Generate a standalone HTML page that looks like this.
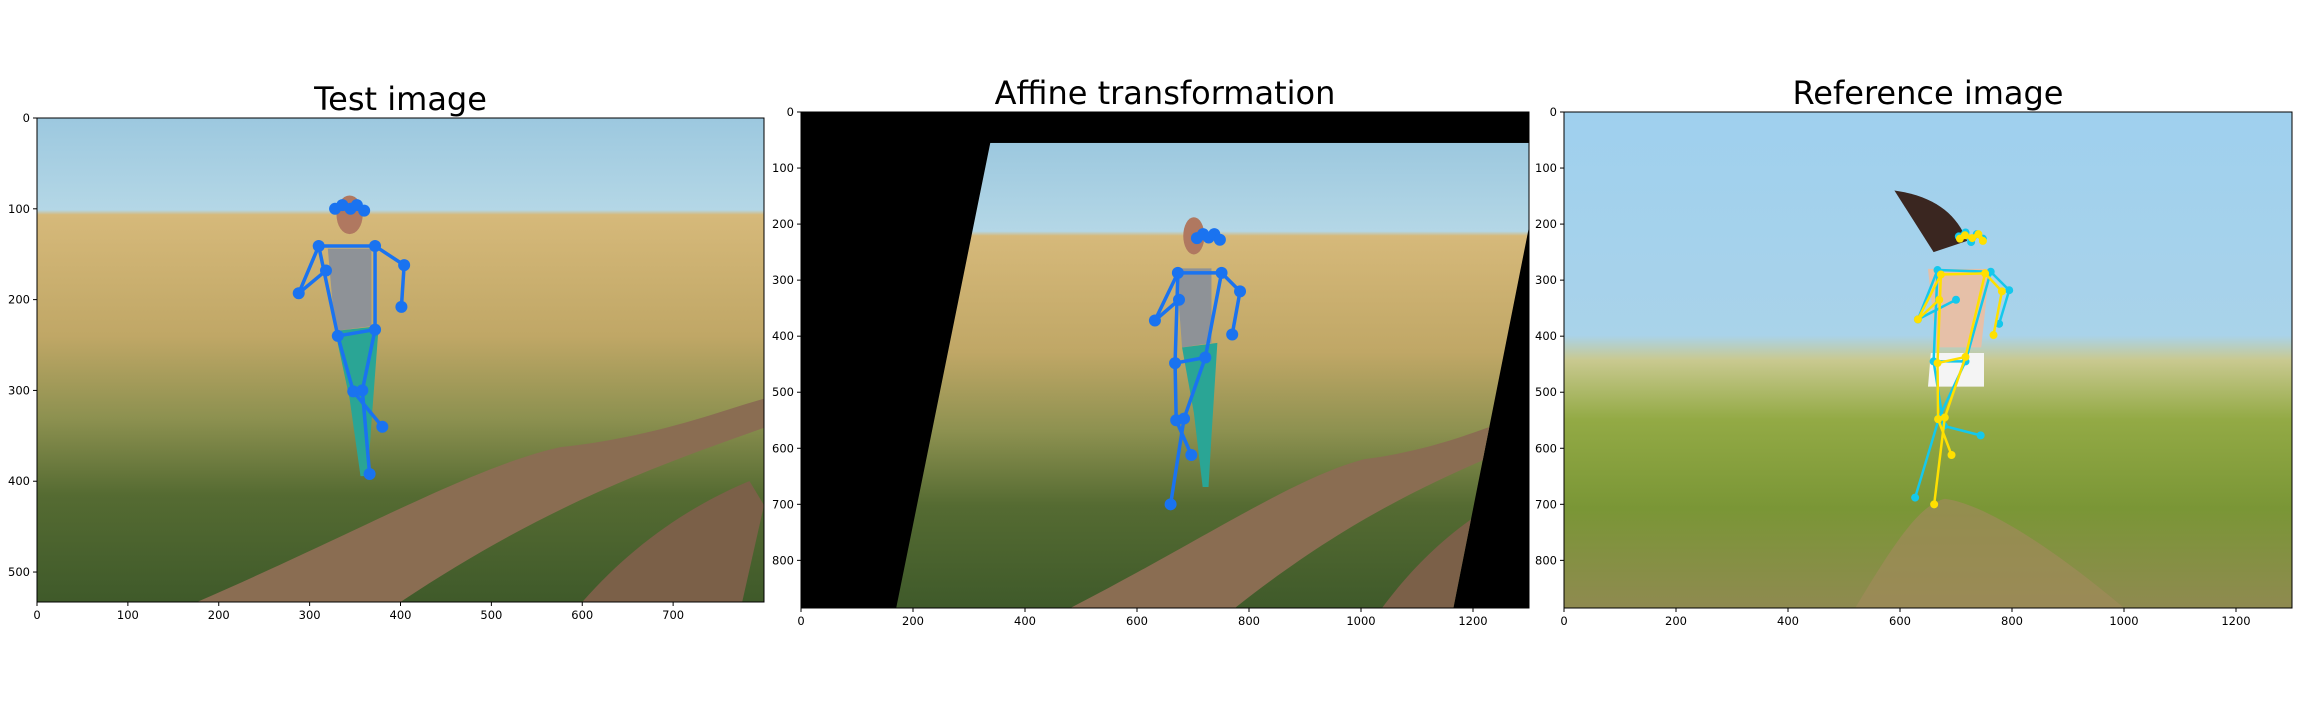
<!DOCTYPE html>
<html><head><meta charset="utf-8"><style>
html,body{margin:0;padding:0;background:#fff;}
svg{display:block;}
text{font-family:"DejaVu Sans","Liberation Sans",sans-serif;fill:#000;}
</style></head><body>
<svg id="fig" width="2304" height="720" xmlns="http://www.w3.org/2000/svg">
<defs>
<linearGradient id="g1" x1="0" y1="0" x2="0" y2="1">
<stop offset="0" stop-color="#9cc8df"/><stop offset="0.19" stop-color="#b4d7e6"/><stop offset="0.2" stop-color="#d6b97a"/><stop offset="0.45" stop-color="#c0a766"/><stop offset="0.62" stop-color="#8d9150"/><stop offset="0.78" stop-color="#556b32"/><stop offset="1" stop-color="#3f5a2a"/></linearGradient>
<linearGradient id="g3" x1="0" y1="0" x2="0" y2="1">
<stop offset="0" stop-color="#9fd0ee"/><stop offset="0.45" stop-color="#a9d3ea"/><stop offset="0.5" stop-color="#c9c990"/><stop offset="0.62" stop-color="#93aa45"/><stop offset="0.8" stop-color="#7a9636"/><stop offset="1" stop-color="#8f8a50"/></linearGradient>
</defs>
<g id="p1"></g><g id="p2"></g><g id="p3"></g>
</svg>
<script>
const p1XTicks=[0,100,200,300,400,500,600,700];
const p1YTicks=[0,100,200,300,400,500];
const p23XTicks=[0,200,400,600,800,1000,1200];
const p23YTicks=[0,100,200,300,400,500,600,700,800];
const p1Head=[[328,100],[336,96],[345,100],[352,96],[360,102]];
const p1Pts=[[310,141],[372,141],[288,193],[318,168],[404,162],[401,208],[331,240],[372,233],[348,301],[358,300],[380,340],[366,392]];
const p2Head=[[707,225],[718,218],[728,224],[738,218],[748,228]];
const p2Pts=[[673,287],[751,287],[632,372],[675,335],[784,320],[770,397],[668,448],[722,438],[670,550],[684,547],[697,612],[660,700]];
const p3HeadC=[[705,222],[717,215],[727,232],[737,218],[748,226]];
const p3PtsC=[[667,282],[762,285],[632,370],[700,335],[795,318],[777,378],[660,445],[717,445],[678,560],[670,545],[744,577],[627,688]];
const p3HeadY=[[707,226],[716,220],[729,225],[740,218],[748,230]];
const p3PtsY=[[673,290],[752,288],[632,370],[670,335],[782,320],[767,398],[667,448],[717,437],[668,548],[680,545],[692,612],[661,700]];
const bones=[[0,1],[0,2],[2,3],[1,4],[4,5],[0,6],[1,7],[6,7],[6,8],[8,10],[7,9],[9,11]];
const affinePoly=[[338,55],[1300,55],[1300,205],[1165,885],[170,885]];

const NS="http://www.w3.org/2000/svg";
function mk(parent,tag,attrs){const e=document.createElementNS(NS,tag);for(const k in attrs)e.setAttribute(k,attrs[k]);parent.appendChild(e);return e;}

function panel(gid,L,T,R,B,xmax,ymax,xt,yt,title,titleY){
  const g=document.getElementById(gid);
  
  
  const sx=v=>L+v/xmax*(R-L), sy=v=>T+v/ymax*(B-T);
  const t=mk(g,'text',{x:(L+R)/2,y:titleY,'font-size':32,'text-anchor':'middle'});
  t.textContent=title;
  
  
  const cp=mk(g,'clipPath',{id:gid+'c'});mk(cp,'rect',{x:L,y:T,width:R-L,height:B-T});
  const img=mk(g,'g',{'clip-path':'url(#'+gid+'c)'});
  
  
  xt.forEach(v=>{mk(g,'line',{x1:sx(v),x2:sx(v),y1:B,y2:B+4,stroke:'#000'});
    const tx=mk(g,'text',{x:sx(v),y:B+17,'font-size':11.5,'text-anchor':'middle'});tx.textContent=v;
    
    });
  yt.forEach(v=>{mk(g,'line',{x1:L-4,x2:L,y1:sy(v),y2:sy(v),stroke:'#000'});
    const ty=mk(g,'text',{x:L-7,y:sy(v)+4,'font-size':11.5,'text-anchor':'end'});ty.textContent=v;
    
    });
  return {g,img,sx,sy,L,T,R,B};
}
function skeleton(P,pts,head,col,w,r){
  const sk=mk(P.img,'g',{});
  
  
  bones.forEach(b=>mk(sk,'line',{x1:P.sx(pts[b[0]][0]),y1:P.sy(pts[b[0]][1]),x2:P.sx(pts[b[1]][0]),y2:P.sy(pts[b[1]][1]),stroke:col,'stroke-width':w}));
  for(let i=0;i<head.length-1;i++)mk(sk,'line',{x1:P.sx(head[i][0]),y1:P.sy(head[i][1]),x2:P.sx(head[i+1][0]),y2:P.sy(head[i+1][1]),stroke:col,'stroke-width':w+2});
  pts.concat(head).forEach(p=>mk(sk,'circle',{cx:P.sx(p[0]),cy:P.sy(p[1]),r:r,fill:col}));
}
function scene(P,x0,y0,x1,y1){
  const W=x1-x0,H=y1-y0;
  const X=f=>P.sx(x0+f*W),Y=f=>P.sy(y0+f*H);
  mk(P.img,'rect',{x:X(0)-300,y:Y(0),width:X(1)-X(0)+300,height:Y(1)-Y(0),fill:'url(#g1)'});
  mk(P.img,'path',{d:`M${X(0.22)},${Y(1)} C${X(0.45)},${Y(0.85)} ${X(0.6)},${Y(0.72)} ${X(0.72)},${Y(0.68)} C${X(0.85)},${Y(0.66)} ${X(0.95)},${Y(0.6)} ${X(1)},${Y(0.58)} L${X(1)},${Y(0.64)} C${X(0.85)},${Y(0.72)} ${X(0.7)},${Y(0.8)} ${X(0.5)},${Y(1)} Z`,fill:'#8a6d52'});
  mk(P.img,'path',{d:`M${X(0.75)},${Y(1)} C${X(0.82)},${Y(0.88)} ${X(0.9)},${Y(0.8)} ${X(0.98)},${Y(0.75)} L${X(1)},${Y(0.8)} L${X(0.97)},${Y(1)} Z`,fill:'#7b6048'});
  mk(P.img,'ellipse',{cx:X(0.43),cy:Y(0.2),rx:(X(1)-X(0))*0.018,ry:(Y(1)-Y(0))*0.04,fill:'#b07860'});
  mk(P.img,'path',{d:`M${X(0.4)},${Y(0.27)} L${X(0.46)},${Y(0.27)} L${X(0.46)},${Y(0.43)} L${X(0.41)},${Y(0.44)} Z`,fill:'#8e9297'});
  mk(P.img,'path',{d:`M${X(0.41)},${Y(0.44)} L${X(0.47)},${Y(0.43)} L${X(0.46)},${Y(0.63)} L${X(0.455)},${Y(0.74)} L${X(0.445)},${Y(0.74)} L${X(0.43)},${Y(0.58)} Z`,fill:'#2aa595'});
}
const P1=panel('p1',37,118,764,602,800,533,p1XTicks,p1YTicks,'Test image',110);
scene(P1,0,0,800,533);
skeleton(P1,p1Pts,p1Head,'#1a73f0',3.5,6);
mk(P1.g,'rect',{x:37,y:118,width:727,height:484,fill:'none',stroke:'#000','stroke-width':1});
const P2=panel('p2',801,112,1529,608,1300,885,p23XTicks,p23YTicks,'Affine transformation',104);
mk(P2.img,'rect',{x:801,y:112,width:728,height:496,fill:'#000'});
const cp2=mk(P2.g,'clipPath',{id:'aff'});
mk(cp2,'polygon',{points:affinePoly.map(p=>P2.sx(p[0])+','+P2.sy(p[1])).join(' ')});
const inner=mk(P2.img,'g',{'clip-path':'url(#aff)'});
const P2b=Object.assign({},P2,{img:inner});
scene(P2b,250,55,1300,885);
skeleton(P2,p2Pts,p2Head,'#1a73f0',3.5,6);
mk(P2.g,'rect',{x:801,y:112,width:728,height:496,fill:'none',stroke:'#000','stroke-width':1});
const P3=panel('p3',1564,112,2292,608,1300,885,p23XTicks,p23YTicks,'Reference image',104);
mk(P3.img,'rect',{x:1564,y:112,width:728,height:496,fill:'url(#g3)'});
mk(P3.img,'path',{d:`M${P3.sx(520)},${P3.sy(885)} C${P3.sx(600)},${P3.sy(750)} ${P3.sx(640)},${P3.sy(700)} ${P3.sx(680)},${P3.sy(690)} C${P3.sx(760)},${P3.sy(700)} ${P3.sx(900)},${P3.sy(800)} ${P3.sx(1000)},${P3.sy(885)} Z`,fill:'#a08a5a',opacity:0.7});
mk(P3.img,'path',{d:`M${P3.sx(650)},${P3.sy(280)} L${P3.sx(760)},${P3.sy(280)} L${P3.sx(745)},${P3.sy(420)} L${P3.sx(665)},${P3.sy(420)} Z`,fill:'#e6c0a8'});
mk(P3.img,'path',{d:`M${P3.sx(655)},${P3.sy(430)} L${P3.sx(750)},${P3.sy(430)} L${P3.sx(750)},${P3.sy(490)} L${P3.sx(650)},${P3.sy(490)} Z`,fill:'#f4f4f4'});
mk(P3.img,'path',{d:`M${P3.sx(590)},${P3.sy(140)} C${P3.sx(660)},${P3.sy(150)} ${P3.sx(700)},${P3.sy(180)} ${P3.sx(720)},${P3.sy(230)} L${P3.sx(660)},${P3.sy(250)} Z`,fill:'#3a2620'});
skeleton(P3,p3PtsC,p3HeadC,'#14c8ec',2.5,4);
skeleton(P3,p3PtsY,p3HeadY,'#ffe000',2.5,4);
mk(P3.g,'rect',{x:1564,y:112,width:728,height:496,fill:'none',stroke:'#000','stroke-width':1});
</script>
</body></html>
